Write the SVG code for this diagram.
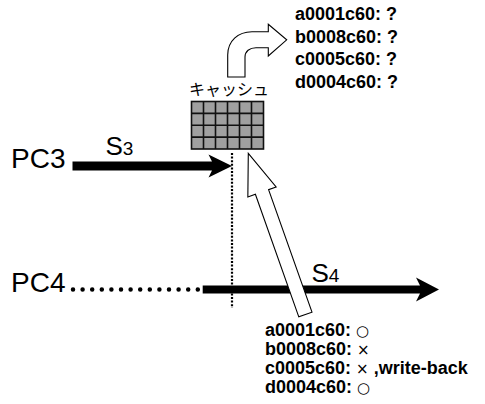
<svg xmlns="http://www.w3.org/2000/svg" width="485" height="404" viewBox="0 0 485 404">
<style>
.lbl{font-family:"Liberation Sans",Arial,sans-serif;fill:#000}
.big{font-size:28px}
.s{font-size:26px}
.sub{font-size:19px}
.code{font-family:"Liberation Sans",Arial,sans-serif;font-weight:bold;font-size:18px;fill:#000}
.sym{font-family:"DejaVu Sans",sans-serif;font-weight:normal;font-size:15px}
.hollow{fill:#fff;stroke:#000;stroke-width:1.1;stroke-linejoin:miter}
.bar{fill:#000}
</style>
<rect width="485" height="404" fill="#fff"/>
<g id="connectors">
  <line x1="232" y1="153" x2="232" y2="308" stroke="#000" stroke-width="2.2" stroke-dasharray="2 1.6"/>
  <path id="pc3-arrow" class="bar" d="M72.5,161.5 L212,161.5 L208.5,154.5 L232,166 L208.5,177.5 L212,170.5 L72.5,170.5 Z"/>
  <line x1="73" y1="289.5" x2="198" y2="289.5" stroke="#000" stroke-width="4.5" stroke-linecap="round" stroke-dasharray="0 9.6"/>
  <path id="pc4-arrow" class="bar" d="M202.7,285.5 L420,285.5 L416,277.5 L439,289.5 L416,301.5 L420,293.5 L202.7,293.5 Z"/>
  <path id="up-arrow" class="hollow" transform="translate(248.3,153.3) rotate(-19.5)" d="M0,0 L15,41 L7,41 L7,171 L-7,171 L-7,41 L-15,41 Z"/>
  <path id="curved-arrow" class="hollow" d="M227.7,77 L227.7,55 C227.7,41 238,31.7 252,31.7 L268.3,31.7 L268.3,24.3 L286.7,39.8 L268.3,56 L268.3,47.7 L256,47.7 C249.5,47.7 245,51.5 245,57 L245,77 Z"/>
</g>
<g id="pc3"><text class="lbl big" x="11" y="168.3">PC3</text></g>
<g id="pc4"><text class="lbl big" x="11" y="291.7">PC4</text></g>
<g id="s3"><text class="lbl s" x="105.5" y="155">S<tspan class="sub">3</tspan></text></g>
<g id="s4"><text class="lbl s" x="311.5" y="281.7">S<tspan class="sub">4</tspan></text></g>
<g id="cache">
  <text x="189" y="94.5" font-family="'Noto Sans CJK JP',sans-serif" font-size="16" fill="#000">キャッシュ</text>
  <rect x="191.5" y="101.5" width="72" height="47.5" fill="#a0a0a0" stroke="#111" stroke-width="1.6"/>
  <path d="M203.5,101.5V149M215.5,101.5V149M227.5,101.5V149M239.5,101.5V149M251.5,101.5V149M191.5,113.4H263.5M191.5,125.25H263.5M191.5,137.1H263.5" stroke="#111" stroke-width="1.6" fill="none"/>
</g>
<g id="before">
  <text class="code" x="295" y="20">a0001c60: ?</text>
  <text class="code" x="295" y="42.5">b0008c60: ?</text>
  <text class="code" x="295" y="65">c0005c60: ?</text>
  <text class="code" x="295" y="87.5">d0004c60: ?</text>
</g>
<g id="after">
  <text class="code" x="265" y="335.5">a0001c60: <tspan class="sym">○</tspan></text>
  <text class="code" x="265" y="354.5">b0008c60: <tspan class="sym">×</tspan></text>
  <text class="code" x="265" y="373.5">c0005c60: <tspan class="sym">×</tspan> ,write-back</text>
  <text class="code" x="265" y="392.5">d0004c60: <tspan class="sym">○</tspan></text>
</g>
</svg>
